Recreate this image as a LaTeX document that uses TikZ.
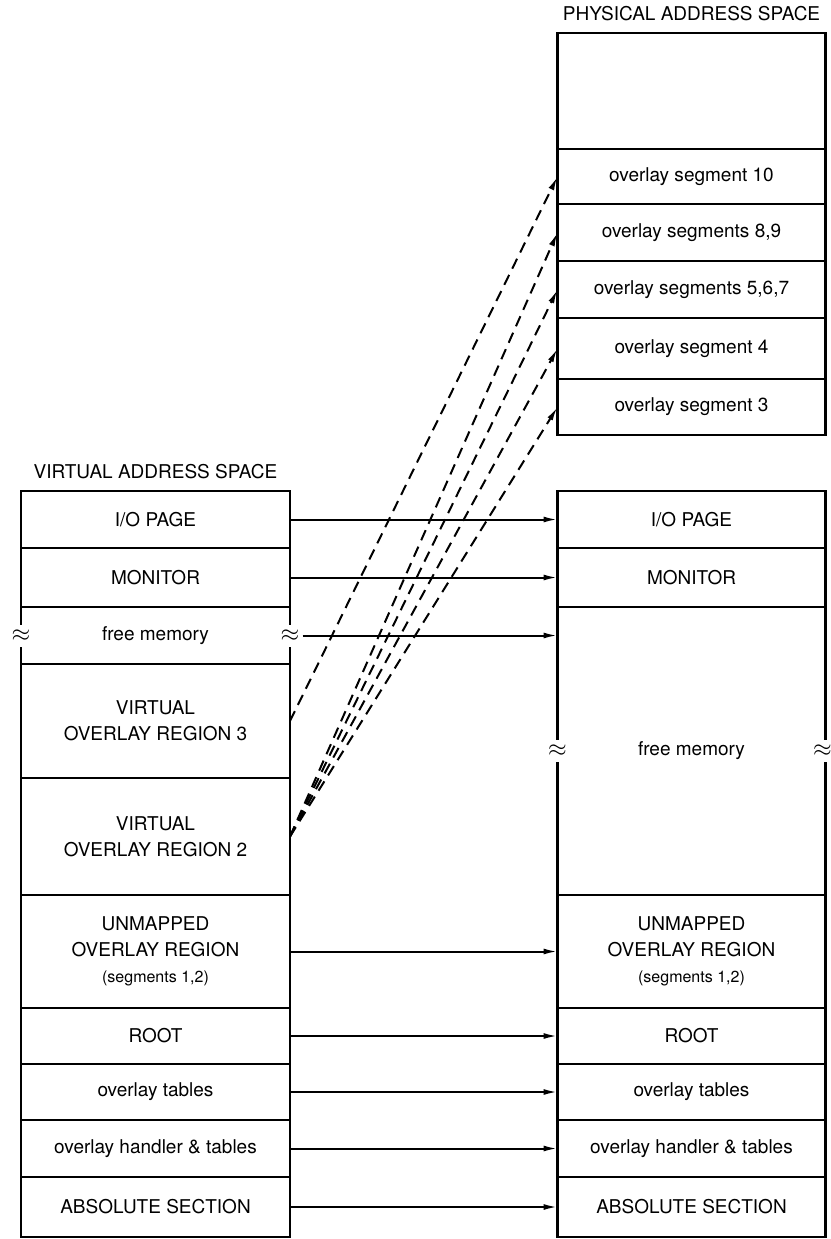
\documentclass[tikz,border=0pt]{standalone}
\usepackage{fontspec}
\setmainfont{TeX Gyre Heros}
\usetikzlibrary{arrows.meta,positioning}
\begin{document}
\begin{tikzpicture}[x=.5pt,y=-.5pt,line width=1.2pt,
    seg/.style={draw,inner sep=0,outer sep=0,align=center,
        font=\fontsize{9.5}{13}\selectfont},
    vseg/.style={seg,minimum width=134.5pt},
    pseg/.style={seg,minimum width=134pt},
    hole/.style={seg,draw=none},
    gap/.style={fill=white,inner sep=1pt,minimum height=11pt,font=\fontsize{11.5}{12}\selectfont},
    title/.style={inner sep=2pt,font=\fontsize{9.5}{11}\selectfont},
    map/.style={line width=1pt,-{Latex[length=7pt,width=3pt]}},
    dmap/.style={map,dash pattern=on 5.5pt off 3.5pt}]
    \useasboundingbox (0,0) rectangle (831,1239);
    \node[pseg,minimum height=58pt] (ptop) at (691.5,91) {};
    \node[pseg,minimum height=27.5pt] (ps10) at (691.5,176.5) {overlay segment 10};
    \node[pseg,minimum height=28.5pt] (ps89) at (691.5,232.5) {overlay segments 8,9};
    \node[pseg,minimum height=28.5pt] (ps567) at (691.5,289.5) {overlay segments 5,6,7};
    \node[pseg,minimum height=30.5pt] (ps4) at (691.5,348.5) {overlay segment 4};
    \node[pseg,minimum height=28pt] (ps3) at (691.5,407) {overlay segment 3};
    \node[title,above=3.5pt of ptop] (ptitle) {PHYSICAL ADDRESS SPACE};

    \node[vseg,minimum height=28.5pt] (vio) at (155.5,519.5) {I/O PAGE};
    \node[vseg,minimum height=29.5pt] (vmon) at (155.5,577.5) {MONITOR};
    \node[hole,minimum width=134.5pt,minimum height=28.5pt] (vfree) at (155.5,635.5) {free memory};
    \node[vseg,minimum height=57pt] (vor3) at (155.5,721) {VIRTUAL\\OVERLAY REGION 3};
    \node[vseg,minimum height=58.5pt] (vor2) at (155.5,836.5) {VIRTUAL\\OVERLAY REGION 2};
    \node[vseg,minimum height=56.5pt] (vunm) at (155.5,951.5) {UNMAPPED\\OVERLAY REGION\\{\fontsize{8}{13}\selectfont(segments 1,2)}};
    \node[vseg,minimum height=28pt] (vroot) at (155.5,1036) {ROOT};
    \node[vseg,minimum height=28pt] (vtab) at (155.5,1092) {overlay tables};
    \node[vseg,minimum height=28.5pt] (vhand) at (155.5,1148.5) {overlay handler \& tables};
    \node[vseg,minimum height=30pt] (vabs) at (155.5,1207) {ABSOLUTE SECTION};
    \node[title,above=3.5pt of vio] (vtitle) {VIRTUAL ADDRESS SPACE};

    \node[pseg,minimum height=28.5pt] (pio) at (691.5,519.5) {I/O PAGE};
    \node[pseg,minimum height=29.5pt] (pmon) at (691.5,577.5) {MONITOR};
    \node[hole,minimum width=134pt,minimum height=144pt] (pfree) at (691.5,751) {free memory};
    \node[pseg,minimum height=56.5pt] (punm) at (691.5,951.5) {UNMAPPED\\OVERLAY REGION\\{\fontsize{8}{13}\selectfont(segments 1,2)}};
    \node[pseg,minimum height=28pt] (proot) at (691.5,1036) {ROOT};
    \node[pseg,minimum height=28pt] (ptab) at (691.5,1092) {overlay tables};
    \node[pseg,minimum height=28.5pt] (phand) at (691.5,1148.5) {overlay handler \& tables};
    \node[pseg,minimum height=30pt] (pabs) at (691.5,1207) {ABSOLUTE SECTION};

    \draw (vfree.north west) -- (vfree.south west) (vfree.north east) -- (vfree.south east);
    \draw (pfree.north west) -- (pfree.south west) (pfree.north east) -- (pfree.south east);
    \node[gap] (vgapl) at (vfree.west) {$\approx$};
    \node[gap] (vgapr) at (vfree.east) {$\approx$};
    \node[gap] (pgapl) at (pfree.west) {$\approx$};
    \node[gap,xshift=-1.5pt] (pgapr) at (pfree.east) {$\approx$};

    \draw[map] (vio) -- (pio);
    \draw[map] (vmon) -- (pmon);
    \draw[map] (vgapr) -- (vgapr -| pfree.west);
    \draw[map] (vunm) -- (punm);
    \draw[map] (vroot) -- (proot);
    \draw[map] (vtab) -- (ptab);
    \draw[map] (vhand) -- (phand);
    \draw[map] (vabs) -- (pabs);

    \draw[dmap] (vor3.east) -- (ps10.west);
    \draw[dmap] (vor2.east) -- (ps89.west);
    \draw[dmap] (vor2.east) -- (ps567.west);
    \draw[dmap] (vor2.east) -- (ps4.west);
    \draw[dmap] (vor2.east) -- (ps3.west);
\end{tikzpicture}
\end{document}
